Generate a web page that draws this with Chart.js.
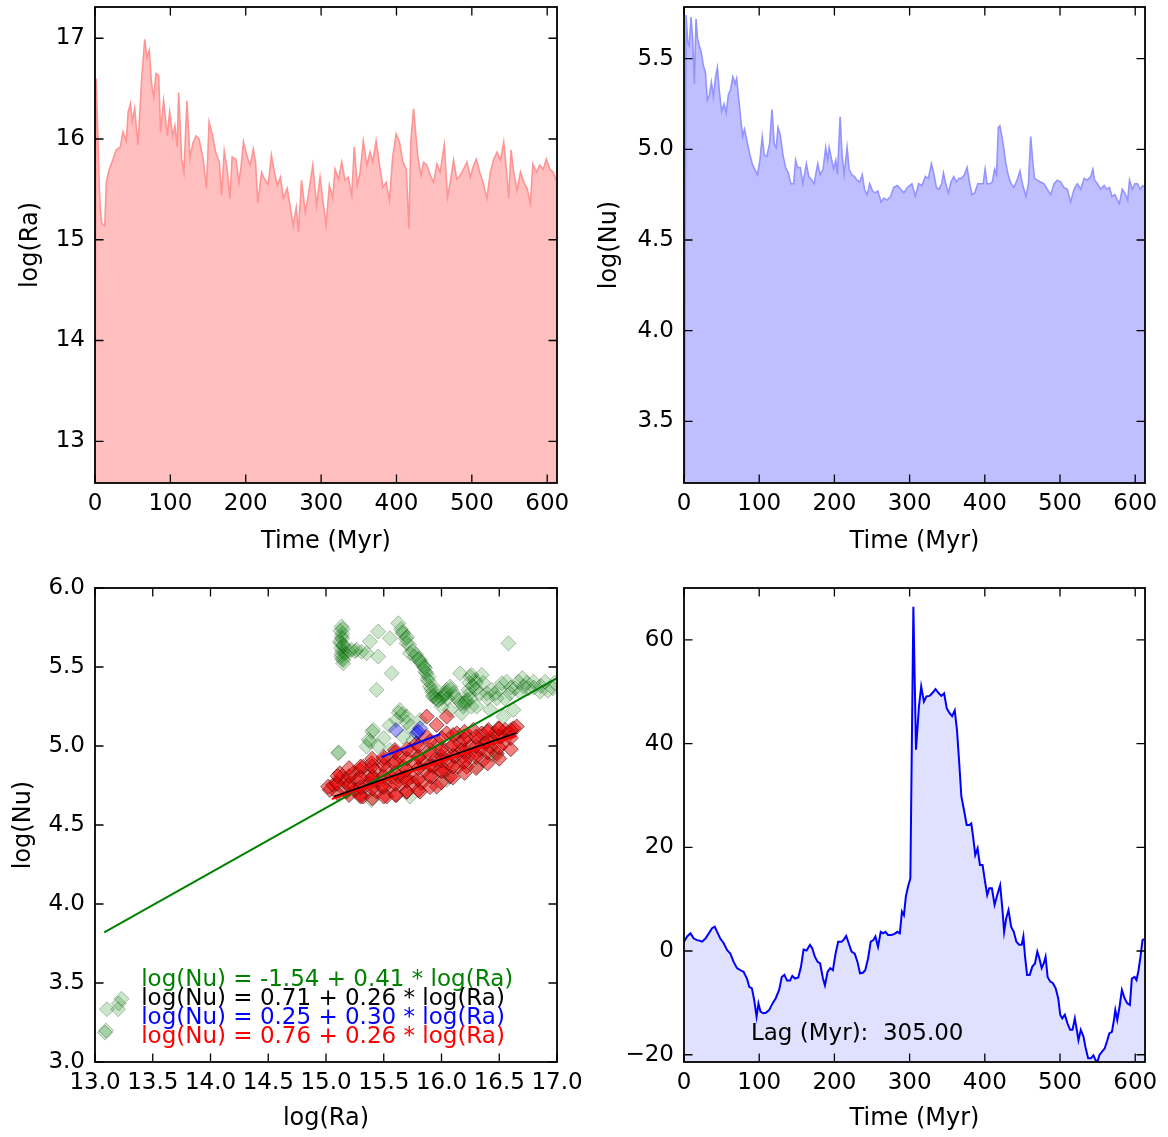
<!DOCTYPE html>
<html>
<head>
<meta charset="utf-8">
<script src="https://cdn.jsdelivr.net/npm/chart.js@4.4.1/dist/chart.umd.min.js"></script>
<style>
  html, body { margin: 0; padding: 0; background: #fff; }
  #fig { position: relative; width: 1168px; height: 1137px; }
  #fig canvas { position: absolute; }
</style>
</head>
<body>
<div id="fig">
  <canvas id="ra" width="584" height="568" style="left:0;top:0;width:584px;height:568px"></canvas>
  <canvas id="nu" width="584" height="568" style="left:584px;top:0;width:584px;height:568px"></canvas>
  <canvas id="fit" width="584" height="569" style="left:0;top:568px;width:584px;height:569px"></canvas>
  <canvas id="lag" width="584" height="569" style="left:584px;top:568px;width:584px;height:569px"></canvas>
</div>
<script>
// time series: [time (Myr), value]
const raSeries = [[0,13.1],[1.5,16.6],[2.6,16.6],[4,16.0],[5.5,15.55],[7,15.3],[9,15.16],[13,15.14],[15,15.57],[18.5,15.69],[24,15.8],[28,15.89],[33.6,15.92],[37,16.07],[41.6,15.98],[44,16.27],[47,16.35],[49.5,16.17],[52.6,16.3],[57,15.94],[59,16.2],[62,16.6],[66,16.99],[69,16.8],[72,16.88],[75,16.55],[78,16.41],[81,16.65],[84.5,16.63],[87,16.07],[91,16.38],[96,16.03],[99,16.27],[103,16.03],[106,16.13],[109,15.92],[111,16.46],[115,15.8],[118,15.67],[122,16.38],[126,15.81],[130,15.96],[134,16.03],[138,16.0],[143.5,15.8],[148,15.51],[151.4,16.17],[156,16.03],[160,15.87],[165,15.77],[168,15.44],[171.5,15.88],[175.4,15.7],[179,15.41],[182,15.82],[187,15.8],[191,15.57],[194,15.74],[197,15.97],[202,15.82],[206,15.74],[210,15.9],[213,15.77],[216,15.36],[221,15.67],[225,15.6],[230,15.55],[234,15.84],[238,15.67],[242,15.54],[246,15.62],[250,15.41],[255,15.51],[258.7,15.34],[263,15.14],[267,15.32],[270,15.08],[274,15.59],[279,15.27],[283,15.44],[289,15.74],[294,15.34],[298.6,15.62],[302,15.41],[306.6,15.14],[311,15.54],[315.4,15.41],[318.5,15.7],[323,15.6],[327.4,15.77],[331.8,15.59],[336,15.62],[340.7,15.44],[344,15.92],[348,15.54],[351.8,15.67],[356,15.98],[360.6,15.74],[365,15.87],[368.6,15.77],[373,15.98],[377.5,15.74],[382,15.52],[386.3,15.57],[390.7,15.39],[395,15.82],[399.6,16.05],[404,15.97],[408.5,15.77],[413,15.7],[416.5,15.11],[419,15.97],[422.7,16.3],[425.8,16.03],[428.4,15.82],[432.4,15.64],[436,15.77],[440.4,15.74],[444.8,15.64],[449.2,15.57],[453.7,15.75],[458,15.67],[463.4,15.94],[467.8,15.42],[472,15.6],[475.8,15.79],[480,15.6],[484.7,15.64],[489,15.7],[493.5,15.77],[498,15.62],[502.4,15.74],[506,15.8],[510.4,15.67],[514.8,15.57],[520,15.41],[524.6,15.67],[529,15.8],[533.4,15.87],[538,15.79],[542.3,15.97],[545.8,15.7],[549,15.41],[552,15.89],[555.6,15.67],[560,15.49],[564.5,15.67],[569,15.57],[573.3,15.51],[577.7,15.36],[581,15.75],[585.7,15.67],[590,15.74],[594.6,15.7],[599,15.8],[603.4,15.7],[608,15.67],[611.4,15.6],[613,15.58]];

const nuSeries = [[0,3.2],[1,3.45],[2.7,5.74],[5,5.59],[7,5.57],[9.3,5.73],[11.5,5.61],[13.8,5.36],[16,5.72],[18,5.61],[20.4,5.57],[22.7,5.54],[25.8,5.46],[28.4,5.43],[31,5.27],[33.8,5.3],[36.4,5.37],[39,5.29],[42,5.4],[44.4,5.45],[47,5.32],[50,5.21],[53.3,5.25],[56,5.2],[59,5.3],[62,5.33],[65,5.4],[68,5.36],[70,5.39],[73,5.27],[75.6,5.16],[78,5.07],[80.4,5.11],[83.5,5.05],[87,4.98],[90.7,4.92],[94,4.89],[97.8,4.86],[101,4.94],[104,5.07],[106.7,4.97],[110,4.96],[113.8,5.03],[117,5.22],[120,5.03],[122.7,5.01],[125,5.12],[128,5.08],[131.5,4.97],[135,4.9],[138.7,4.87],[142,4.81],[145.8,4.81],[148.4,4.94],[151,4.9],[154.7,4.9],[158,4.81],[162.7,4.92],[166,4.85],[170,4.83],[173,4.81],[177.8,4.92],[181,4.86],[185,4.89],[188.4,5.01],[191,4.94],[193,5.01],[196.4,4.94],[199,4.89],[201.8,4.94],[204,4.86],[207.6,5.18],[210,4.98],[213,4.86],[216.9,5.01],[219.6,4.89],[223,4.86],[226.7,4.85],[230,4.83],[233.8,4.82],[237,4.86],[240,4.78],[243.6,4.75],[247,4.81],[250.7,4.77],[254,4.76],[257.8,4.77],[262,4.71],[265.8,4.73],[270,4.72],[274.7,4.74],[279,4.79],[283.6,4.8],[288,4.78],[292.4,4.76],[297,4.79],[300,4.8],[303,4.81],[307.6,4.74],[312,4.81],[316.4,4.8],[321,4.85],[325,4.84],[329,4.92],[332,4.87],[335.6,4.79],[339,4.78],[342.7,4.81],[345,4.87],[348,4.81],[351.6,4.76],[355,4.82],[358.7,4.85],[362,4.82],[365.8,4.84],[369,4.84],[373,4.86],[376.4,4.9],[380,4.81],[383,4.75],[386.7,4.76],[390.7,4.81],[395,4.81],[397.8,4.81],[400.4,4.89],[403,4.81],[406.7,4.81],[410,4.82],[413,4.89],[415.6,4.86],[418,5.12],[420,5.13],[422.7,5.07],[425,5.01],[428,4.92],[431.6,4.85],[435,4.81],[438.7,4.79],[443,4.83],[446.7,4.88],[450,4.81],[454.7,4.74],[458,4.81],[461,5.07],[463.6,4.94],[466,4.84],[469.8,4.83],[474,4.82],[478.7,4.81],[483,4.78],[487.6,4.75],[492,4.81],[496.4,4.83],[501,4.82],[505,4.79],[509.8,4.78],[514,4.71],[518.7,4.78],[523,4.81],[527.6,4.78],[532,4.84],[536.4,4.83],[541,4.85],[543.6,4.89],[546,4.83],[549.8,4.81],[554,4.78],[558.7,4.8],[562,4.78],[565.8,4.79],[569,4.74],[573,4.75],[576.4,4.72],[579,4.7],[582.7,4.78],[586,4.76],[590,4.72],[592.4,4.83],[596,4.78],[599.6,4.81],[603,4.81],[606.7,4.78],[610,4.8],[613,4.79]];

const lagSeries = [[0,1.8],[4.2,2.8],[8.6,3.4],[13,2.4],[17.4,2.1],[20.5,2.0],[24,1.8],[28.5,2.4],[33,3.4],[37.3,4.4],[40.9,4.7],[44,3.7],[48.3,2.4],[52.8,1.5],[57.2,0.2],[61.6,-0.5],[66,-2.1],[70.4,-3.3],[74.8,-3.7],[79.2,-4.0],[83.7,-5.3],[86.8,-6.9],[90.3,-7.2],[93.4,-9.5],[96.5,-12.7],[99,-10.1],[101.8,-11.7],[105.3,-12.0],[108.8,-11.9],[113.2,-11.4],[117.7,-10.1],[122,-9.1],[126.5,-7.5],[130,-5.0],[133.5,-4.6],[137,-5.7],[141,-5.7],[144,-4.8],[147.7,-5.3],[152,-5.1],[155.6,-3.0],[159,0.3],[163,0.1],[167.5,1.2],[170.6,0.5],[174,-1.1],[177.7,-2.1],[181,-2.4],[184.8,-5.3],[187.4,-6.6],[191,-4.0],[194.5,-3.3],[198,-3.7],[201.5,-0.5],[205,1.8],[209.5,1.8],[212,2.1],[215.7,2.9],[219,1.5],[222.8,-0.1],[227,-0.5],[230.7,-2.1],[234,-4.3],[237.8,-4.2],[241,-3.7],[244.8,-1.4],[248.3,1.8],[251.8,2.1],[254.5,2.8],[258,0.8],[261.6,3.7],[264.7,3.4],[267.8,3.7],[271.3,3.1],[275.7,3.1],[280,3.3],[283.7,3.7],[287,3.4],[289.8,7.6],[292.4,6.9],[295,10.5],[298,12.5],[301,14],[305,66.4],[308.5,38.8],[312.4,47.1],[315.4,51.0],[319,48.1],[322.5,49.1],[326.5,49.2],[330,49.7],[334.4,50.5],[338.8,49.7],[342.3,49.2],[345.9,49.7],[349.4,46.8],[352.9,45.9],[356.5,45.3],[360,46.4],[363,42.6],[366,36.2],[368.8,29.8],[372.3,27.2],[375.9,24.3],[379.4,24.3],[382,24.6],[384.7,21.7],[387.3,18.5],[390.4,19.8],[393.5,16.6],[397,16.6],[400.6,13.1],[403.2,10.8],[405.9,12.1],[409.4,12.1],[413,8.9],[416.5,10.8],[420.4,12.7],[423.5,7.9],[425.7,3.7],[428.4,6.3],[431.5,7.9],[435,4.7],[438.5,3.7],[442,1.8],[445.7,1.2],[449.1,1.2],[451.3,2.8],[453.5,-1.1],[456.2,-4.6],[459.7,-4.6],[463.2,-3.0],[466.7,-2.4],[469.8,-0.1],[472.5,-1.4],[475.6,-3.3],[478.6,-2.3],[480.8,-1.1],[483.5,-5.0],[487,-5.9],[490.6,-6.2],[494.2,-7.2],[497.6,-9.1],[500.3,-12.3],[502.9,-13.0],[506.4,-12.3],[510,-14.0],[513.5,-15.2],[516.6,-15.2],[519.7,-13.0],[522.3,-15.2],[524.5,-17.2],[527.6,-15.2],[531.2,-16.5],[533.8,-18.5],[537.4,-20.7],[540.9,-20.7],[544.4,-20.1],[547.1,-21.0],[549.7,-21.4],[552.3,-20.1],[555.8,-19.4],[559.4,-18.8],[562.9,-17.2],[565.5,-15.9],[569,-15.6],[571.7,-13.3],[573.5,-11.4],[576.1,-13.3],[579.2,-10.7],[582.3,-7.5],[585.8,-9.1],[589.4,-10.1],[592.9,-10.4],[595.5,-5.3],[599.1,-5.0],[601.7,-5.6],[604.4,-3.7],[607,-1.1],[609.7,2.1],[612,2.3]];

// scatter of log(Ra) vs log(Nu): [log(Ra), log(Nu)]
const greenPoints = [[13.087,3.186],[13.095,3.2],[13.103,3.334],[13.2,3.334],[13.205,3.37],[13.23,3.4],
  [15.106,4.954],[15.11,4.96],
  [15.135,5.756],[15.135,5.692],[15.149,5.629],[15.135,5.566],[15.149,5.523],[15.12,5.661],[15.163,5.587],[15.14,5.6],[15.13,5.65],[15.14,5.71],[15.125,5.73],[15.15,5.545],
  [15.135,5.58],[15.14,5.68],[15.13,5.62],[15.145,5.74],[15.14,5.55],[15.15,5.64],[15.2,5.6],[15.25,5.6],
  [15.221,5.608],[15.265,5.608],[15.308,5.597],[15.351,5.587],
  [15.452,5.724],[15.38,5.661],[15.452,5.566],[15.568,5.46],[15.438,5.355],[15.626,5.777],[15.554,5.682],
  [15.669,5.713],[15.698,5.65],[15.727,5.587],[15.77,5.566],[15.814,5.545],[15.857,5.492],[15.886,5.439],[15.9,5.376],[15.929,5.312],[15.973,5.291],[16.016,5.312],[16.045,5.355],[16.074,5.376],[16.103,5.334],[16.146,5.291],[16.189,5.249],[16.218,5.291],[16.233,5.355],[16.247,5.439],[16.291,5.418],[16.348,5.45],[16.392,5.334],[16.435,5.355],[16.478,5.302],[16.522,5.397],[16.565,5.407],[16.594,5.334],[16.637,5.365],[16.666,5.407],[16.71,5.376],[16.753,5.365],[16.796,5.407],[16.854,5.344],[16.897,5.407],[16.964,5.365],[16.58,5.65],
  [15.66,5.72],[15.7,5.69],[15.72,5.64],[15.75,5.6],[15.78,5.58],[15.82,5.53],[15.85,5.5],[15.87,5.46],[15.88,5.42],[15.91,5.36],[15.93,5.32],[15.97,5.29],[16.0,5.3],[16.04,5.34],[16.08,5.36],[16.12,5.31],[16.17,5.27],[16.21,5.28],[16.24,5.33],[16.24,5.4],[16.26,5.45],[16.3,5.4],
  [15.65,5.74],[15.69,5.68],[15.8,5.55],[15.84,5.51],[15.86,5.47],[15.89,5.41],[15.92,5.34],[15.95,5.3],[16.25,5.3],[16.26,5.25],[16.05,5.3],[16.03,5.33],[16.2,5.27],[16.27,5.38],
  [16.33,5.33],[16.4,5.3],[16.46,5.33],[16.5,5.36],[16.55,5.3],[16.6,5.37],[16.68,5.34],[16.74,5.4],[16.8,5.37],[16.86,5.38],[16.92,5.35],[16.98,5.4],[16.36,5.4],[16.3,5.36],[16.7,5.43],
  [16.161,5.46],[16.305,5.249],[16.421,5.228],[16.623,5.228],[16.536,5.186],[15.958,5.355],[16.002,5.249],[16.074,5.228],[16.175,5.207],
  [15.409,5.102],[15.4,5.09],[15.38,5.028],[15.37,5.04],[15.351,4.996],[15.64,5.228],[15.63,5.21],[15.698,5.186],[15.727,5.122],[15.669,5.059],[15.554,4.975],[15.814,5.165],[15.756,5.038],[15.611,5.165],[16.435,4.943],
  [15.55,5.13],[15.5,5.05],[15.45,5.0],[15.66,5.2],[15.7,5.15],
  [15.395,4.658],[15.727,4.68],[16.045,4.785],[16.305,4.87],[16.478,4.943]];

const redPoints = [[15.033,4.722],[15.091,4.764],[15.135,4.806],[15.178,4.711],[15.207,4.764],[15.236,4.827],[15.265,4.785],[15.294,4.848],[15.322,4.869],[15.337,4.743],[15.366,4.806],[15.395,4.891],[15.424,4.848],[15.438,4.711],[15.467,4.785],[15.496,4.912],[15.525,4.848],[15.554,4.743],[15.583,4.891],[15.597,4.975],[15.626,4.806],[15.64,4.933],[15.669,4.869],[15.698,4.711],[15.727,4.975],[15.742,4.806],[15.77,4.891],[15.785,5.017],[15.814,4.933],[15.828,4.764],[15.857,4.848],[15.872,5.059],[15.9,4.975],[15.915,4.806],[15.944,4.912],[15.973,5.017],[15.987,4.848],[16.016,4.954],[16.045,5.08],[16.059,4.891],[16.088,4.996],[16.117,4.933],[16.132,5.08],[16.161,5.017],[16.189,4.933],[16.218,5.059],[16.247,4.996],[16.276,5.102],[16.291,4.954],[16.32,5.038],[16.348,5.08],[16.377,5.017],[16.406,5.102],[16.435,5.038],[16.464,5.08],[16.493,5.112],[16.522,5.059],[16.551,5.102],[16.594,5.08],[16.623,5.112],[16.652,5.123],
  [15.019,4.743],[15.12,4.827],[15.872,5.186],[15.958,5.133],[16.045,5.186],[15.322,4.68],[15.294,4.69],[15.525,4.68],[15.611,4.69],[15.814,4.711],[15.958,4.743],[16.074,4.806],[16.218,4.869],[16.363,4.912],[16.478,4.954],
  [15.062,4.753],[15.163,4.774],[15.25,4.722],[15.38,4.764],[15.481,4.743],[15.568,4.806],[15.655,4.764],[15.756,4.764],[15.843,4.891],[15.929,4.869],[16.03,4.848],[16.146,4.869],[16.233,4.933],[16.334,4.975],[16.421,4.996],[16.536,5.017],[15.409,4.806],[15.684,4.806],[16.002,4.933],[16.175,4.975],
  [15.1,4.7],[15.1,4.76],[15.1,4.81],[15.2,4.69],[15.2,4.75],[15.2,4.81],[15.2,4.86],[15.3,4.68],[15.3,4.74],[15.3,4.8],[15.3,4.87],
  [15.4,4.67],[15.4,4.73],[15.4,4.8],[15.4,4.87],[15.4,4.92],[15.5,4.68],[15.5,4.74],[15.5,4.81],[15.5,4.88],[15.5,4.93],
  [15.6,4.69],[15.6,4.76],[15.6,4.83],[15.6,4.9],[15.6,4.96],[15.7,4.71],[15.7,4.78],[15.7,4.85],[15.7,4.92],[15.7,4.98],
  [15.8,4.72],[15.8,4.79],[15.8,4.86],[15.8,4.93],[15.8,5.0],[15.9,4.74],[15.9,4.81],[15.9,4.88],[15.9,4.95],[15.9,5.03],
  [16.0,4.77],[16.0,4.84],[16.0,4.91],[16.0,4.98],[16.0,5.05],[16.1,4.8],[16.1,4.87],[16.1,4.94],[16.1,5.01],[16.1,5.07],
  [16.2,4.83],[16.2,4.9],[16.2,4.97],[16.2,5.04],[16.2,5.09],[16.3,4.86],[16.3,4.93],[16.3,5.0],[16.3,5.06],
  [16.4,4.89],[16.4,4.96],[16.4,5.03],[16.4,5.09],[16.5,4.92],[16.5,4.99],[16.5,5.06],[16.5,5.11],[16.6,4.98],[16.6,5.05],[16.6,5.1]];

const bluePoints = [[15.606,5.101],[15.785,5.08],[15.814,5.112],[15.8,5.09]];

// fitted lines, end points
const greenFit = [[13.08,3.82],[17.0,5.43]];
const blackFit = [[15.07,4.68],[16.64,5.08]];
const redFit = [[15.05,4.665],[16.65,5.065]];
const blueFit = [[15.48,4.93],[15.99,5.076]];

const fitLabels = ['log(Nu) = -1.54 + 0.41 * log(Ra)', 'log(Nu) = 0.71 + 0.26 * log(Ra)', 'log(Nu) = 0.25 + 0.30 * log(Ra)', 'log(Nu) = 0.76 + 0.26 * log(Ra)'];
const fitColors = ['#008000', '#000000', '#0000ff', '#ff0000'];
const fitLabelY = [3.48, 3.36, 3.24, 3.12];
const lagLabel = 'Lag (Myr):  305.00';

const FONT = 'DejaVu Sans';
const toXY = arr => arr.map(p => ({ x: p[0], y: p[1] }));

// matplotlib-like frame with inward ticks on all four sides
Chart.register({
  id: 'frame',
  afterDraw(chart) {
    const { ctx, chartArea: a, scales: { x, y } } = chart;
    ctx.save();
    ctx.strokeStyle = '#000';
    ctx.lineWidth = 1.3;
    ctx.beginPath();
    x.ticks.forEach(t => {
      const px = x.getPixelForValue(t.value);
      ctx.moveTo(px, a.bottom); ctx.lineTo(px, a.bottom - 8.5);
      ctx.moveTo(px, a.top); ctx.lineTo(px, a.top + 8.5);
    });
    y.ticks.forEach(t => {
      const py = y.getPixelForValue(t.value);
      ctx.moveTo(a.left, py); ctx.lineTo(a.left + 8.5, py);
      ctx.moveTo(a.right, py); ctx.lineTo(a.right - 8.5, py);
    });
    ctx.stroke();
    ctx.lineWidth = 1.8;
    ctx.strokeRect(a.left, a.top, a.right - a.left, a.bottom - a.top);
    ctx.restore();
  }
});

// text placed in data coordinates
Chart.register({
  id: 'notes',
  afterDatasetsDraw(chart, args, opts) {
    const items = opts.items || [];
    if (!items.length) return;
    const { ctx, scales: { x, y } } = chart;
    ctx.save();
    ctx.font = '23px "' + FONT + '"';
    ctx.textBaseline = 'alphabetic';
    ctx.textAlign = 'left';
    items.forEach(n => {
      ctx.fillStyle = n.color;
      ctx.fillText(n.text, x.getPixelForValue(n.x), y.getPixelForValue(n.y));
    });
    ctx.restore();
  }
});

function axis(o, fit) {
  return {
    type: 'linear',
    min: o.min, max: o.max,
    grid: { display: false, drawTicks: false },
    border: { display: false },
    ticks: {
      stepSize: o.step, includeBounds: false, autoSkip: false,
      maxRotation: 0, minRotation: 0, padding: o.pad,
      color: '#000', font: { family: FONT, size: 23 },
      callback: o.fmt || (v => String(v))
    },
    title: {
      display: !!o.title, text: o.title, color: '#000',
      font: { family: FONT, size: 24 },
      padding: o.titlePad
    },
    afterFit: s => {
      fit(s);
      // keep the plot box exactly where the layout puts it
      s.paddingLeft = s.paddingRight = s.paddingTop = s.paddingBottom = 0;
    }
  };
}

function panel(id, type, box, xo, yo, datasets, notes) {
  return new Chart(document.getElementById(id), {
    type: type,
    data: { datasets: datasets },
    options: {
      responsive: false,
      animation: false,
      devicePixelRatio: 1,
      layout: { autoPadding: false, padding: { left: 0, top: box.t, right: box.w - box.r, bottom: 0 } },
      plugins: { legend: { display: false }, tooltip: { enabled: false }, notes: { items: notes || [] } },
      scales: {
        x: axis(xo, s => { s.height = box.h - box.b; }),
        y: axis(yo, s => { s.width = box.l; })
      }
    }
  });
}

const fixed1 = v => v.toFixed(1);
const minus = v => (v < 0 ? '\u2212' + Math.abs(v) : String(v));

const series = (data, line, fill, width) => ({
  data: toXY(data), borderColor: line, backgroundColor: fill, borderWidth: width,
  fill: 'start', pointRadius: 0, tension: 0
});

panel('ra', 'line', { w: 584, h: 568, l: 95, t: 7, r: 557, b: 483 },
  { min: 0, max: 613, step: 100, pad: 7, title: 'Time (Myr)', titlePad: { top: 0, bottom: 11.6 } },
  { min: 12.586, max: 17.31, step: 1, pad: 10, title: 'log(Ra)', titlePad: { top: 16, bottom: 0 } },
  [series(raSeries, '#ff9494', '#ffbfbf', 1.6)]);

panel('nu', 'line', { w: 584, h: 568, l: 100, t: 7, r: 561, b: 483 },
  { min: 0, max: 613, step: 100, pad: 7, title: 'Time (Myr)', titlePad: { top: 0, bottom: 11.6 } },
  { min: 3.16, max: 5.785, step: 0.5, pad: 10, fmt: fixed1, title: 'log(Nu)', titlePad: { top: 11.6, bottom: 0 } },
  [series(nuSeries, '#9494ff', '#bfbfff', 1.6)]);

const dots = (data, fill, edge, order) => ({
  data: toXY(data), backgroundColor: fill, borderColor: edge, borderWidth: 1,
  pointStyle: 'rectRot', pointRadius: 7.5, order: order
});
const fitLine = (data, color, width, order) => ({
  data: toXY(data), showLine: true, borderColor: color, borderWidth: width,
  pointRadius: 0, fill: false, order: order
});

panel('fit', 'scatter', { w: 584, h: 569, l: 95, t: 20, r: 557, b: 494 },
  { min: 13, max: 17, step: 0.5, pad: 7, fmt: fixed1, title: 'log(Ra)', titlePad: { top: 0, bottom: 4.1 } },
  { min: 3, max: 6, step: 0.5, pad: 10, fmt: fixed1, title: 'log(Nu)', titlePad: { top: 9.6, bottom: 0 } },
  [
    dots(greenPoints, 'rgba(0,128,0,0.2)', 'rgba(0,50,0,0.28)', 7),
    dots(redPoints, 'rgba(235,0,0,0.5)', 'rgba(60,0,0,0.55)', 6),
    dots(bluePoints, 'rgba(0,0,255,0.35)', 'rgba(0,0,60,0.4)', 5),
    fitLine(greenFit, '#008000', 2, 3),
    fitLine(blueFit, '#0000ff', 2, 2),
    fitLine(redFit, '#ff0000', 2, 1),
    fitLine(blackFit, '#000000', 1.6, 0)
  ],
  fitLabels.map((t, i) => ({ text: t, color: fitColors[i], x: 13.4, y: fitLabelY[i] })));

panel('lag', 'line', { w: 584, h: 569, l: 100, t: 20, r: 561, b: 494 },
  { min: 0, max: 613, step: 100, pad: 7, title: 'Time (Myr)', titlePad: { top: 0, bottom: 4.1 } },
  { min: -21.4, max: 70, step: 20, pad: 10, fmt: minus, title: '', titlePad: 0 },
  [series(lagSeries, '#0000ff', 'rgba(0,0,255,0.12)', 2)],
  [{ text: lagLabel, color: '#000', x: 89, y: -17.2 }]);
</script>
</body>
</html>
